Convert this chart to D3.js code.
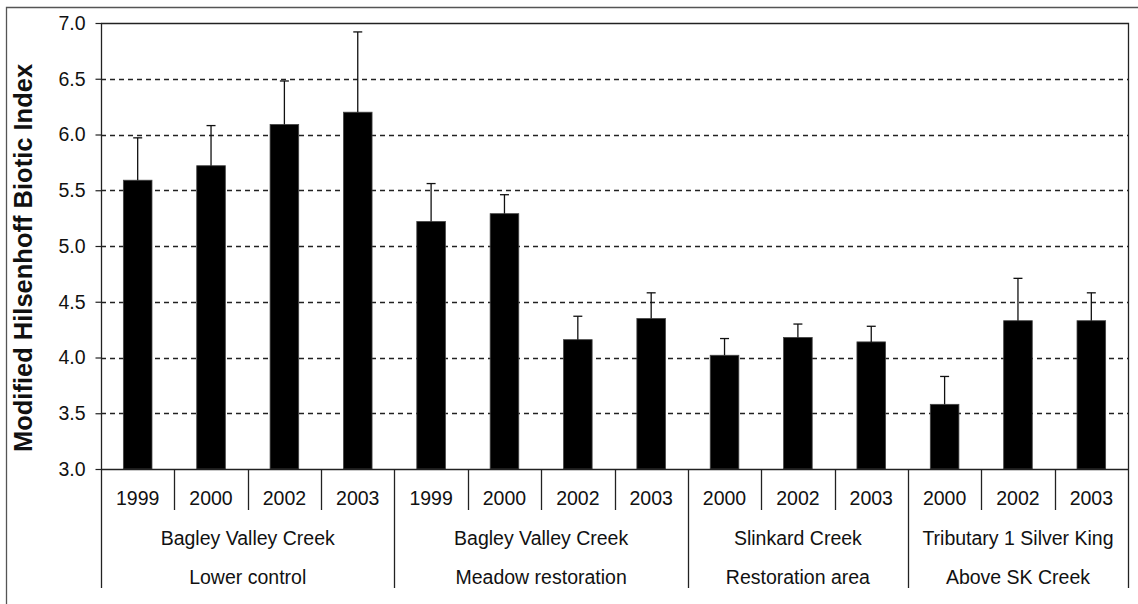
<!DOCTYPE html>
<html>
<head>
<meta charset="utf-8">
<script src="https://cdn.jsdelivr.net/npm/d3@7"></script>
<style>
  html, body { margin: 0; padding: 0; background: #fff; }
  svg { display: block; }
  text { font-family: Arial, "Liberation Sans", sans-serif; fill: #111; }
</style>
</head>
<body>
<svg id="chart" width="1138" height="604"></svg>
<script>
// Sampling sites (two label lines each) and the years sampled at each
const sites = [
  { name: "Bagley Valley Creek", reach: "Lower control" },
  { name: "Bagley Valley Creek", reach: "Meadow restoration" },
  { name: "Slinkard Creek", reach: "Restoration area" },
  { name: "Tributary 1 Silver King", reach: "Above SK Creek" }
];
const siteYears = [
  ["1999", "2000", "2002", "2003"],
  ["1999", "2000", "2002", "2003"],
  ["2000", "2002", "2003"],
  ["2000", "2002", "2003"]
];
// Mean Modified Hilsenhoff Biotic Index, in the same order
const meanIndex = [5.59, 5.72, 6.09, 6.20, 5.22, 5.29, 4.16, 4.35, 4.02, 4.18, 4.14, 3.58, 4.33, 4.33];
// Upper end of each error bar
const upperIndex = [5.97, 6.08, 6.48, 6.92, 5.56, 5.46, 4.37, 4.58, 4.17, 4.30, 4.28, 3.83, 4.71, 4.58];
const yTicks = [3.0, 3.5, 4.0, 4.5, 5.0, 5.5, 6.0, 6.5, 7.0];
const yTitle = "Modified Hilsenhoff Biotic Index";

(function draw() {
  // Flatten sites/years into one row per bar
  const rows = [];
  siteYears.forEach((years, s) => years.forEach(yr => rows.push({ site: s, year: yr, key: s + "-" + yr })));
  rows.forEach((r, i) => { r.mean = meanIndex[i]; r.upper = upperIndex[i]; });

  const svg = d3.select("#chart");
  const pLeft = 101, pRight = 1128, pTop = 23, pBottom = 469;
  const yearBottom = 510, groupBottom = 588;

  // Outer chart frame (open on right/bottom)
  svg.append("path").attr("d", "M6.5,604V7.5H1138").attr("fill", "none").attr("stroke", "#555").attr("stroke-width", 1.3);

  const x = d3.scaleBand().domain(rows.map(r => r.key)).range([pLeft, pRight]).paddingInner(0).paddingOuter(0);
  const y = d3.scaleLinear().domain([3, 7]).range([pBottom, pTop]);
  const barW = x.bandwidth() * 0.39;

  // Dashed gridlines
  svg.append("g").selectAll("line").data(yTicks.filter(t => t > 3 && t < 7)).join("line")
    .attr("x1", pLeft).attr("x2", pRight)
    .attr("y1", d => Math.round(y(d)) + 0.5).attr("y2", d => Math.round(y(d)) + 0.5)
    .attr("stroke", "#222").attr("stroke-width", 1.3).attr("stroke-dasharray", "5,4");

  // Plot border: top and right
  svg.append("path").attr("d", `M${pLeft},${pTop + 0.5}H${pRight + 0.5}V${pBottom}`)
    .attr("fill", "none").attr("stroke", "#222").attr("stroke-width", 1.3);

  // Bars
  svg.append("g").selectAll("rect").data(rows).join("rect")
    .attr("x", d => x(d.key) + (x.bandwidth() - barW) / 2)
    .attr("width", barW)
    .attr("y", d => y(d.mean))
    .attr("height", d => y(3) - y(d.mean))
    .attr("fill", "#000").attr("stroke", "#444").attr("stroke-width", 0.8);

  // Error bars (upper only)
  const eb = svg.append("g").attr("stroke", "#111").attr("stroke-width", 1.3);
  const cx = d => x(d.key) + x.bandwidth() / 2;
  eb.selectAll("line.v").data(rows).join("line").attr("class", "v")
    .attr("x1", cx).attr("x2", cx)
    .attr("y1", d => y(d.mean)).attr("y2", d => y(d.upper));
  eb.selectAll("line.c").data(rows).join("line").attr("class", "c")
    .attr("x1", d => cx(d) - 4.5).attr("x2", d => cx(d) + 4.5)
    .attr("y1", d => y(d.upper)).attr("y2", d => y(d.upper));

  // Y axis
  const yAxis = d3.axisLeft(y).tickValues(yTicks).tickFormat(d3.format(".1f")).tickSize(6).tickPadding(10);
  const ya = svg.append("g").attr("transform", `translate(${pLeft + 0.5},0)`).call(yAxis);
  ya.select(".domain").remove();
  ya.selectAll(".tick line").attr("stroke", "#222").attr("stroke-width", 1.2);
  ya.selectAll(".tick text").attr("font-size", 19.5).attr("fill", "#111")
    .style("font-family", "Arial, 'Liberation Sans', sans-serif");

  // Axis lines: left spine extends down through the category table
  svg.append("line").attr("x1", pLeft + 0.5).attr("x2", pLeft + 0.5).attr("y1", pTop).attr("y2", groupBottom)
    .attr("stroke", "#222").attr("stroke-width", 1.3);
  svg.append("line").attr("x1", pLeft).attr("x2", pRight).attr("y1", pBottom + 0.5).attr("y2", pBottom + 0.5)
    .attr("stroke", "#222").attr("stroke-width", 1.3);

  // Year separators and labels
  const groupStart = new Set();
  let idx = 0;
  siteYears.forEach(ys => { groupStart.add(idx); idx += ys.length; });
  svg.append("g").selectAll("line").data(rows.filter((r, i) => !groupStart.has(i))).join("line")
    .attr("x1", d => Math.round(x(d.key)) + 0.5).attr("x2", d => Math.round(x(d.key)) + 0.5)
    .attr("y1", pBottom).attr("y2", yearBottom).attr("stroke", "#222").attr("stroke-width", 1.3);
  svg.append("g").selectAll("text").data(rows).join("text")
    .attr("x", cx).attr("y", 505)
    .attr("text-anchor", "middle").attr("font-size", 19.5).text(d => d.year);

  // Site group boundaries and two-line labels
  const groups = [];
  idx = 0;
  siteYears.forEach((ys, s) => {
    const first = rows[idx], last = rows[idx + ys.length - 1];
    groups.push({ s, x0: x(first.key), x1: x(last.key) + x.bandwidth() });
    idx += ys.length;
  });
  svg.append("g").selectAll("line").data(groups).join("line")
    .attr("x1", d => Math.round(d.x1) + 0.5).attr("x2", d => Math.round(d.x1) + 0.5)
    .attr("y1", pBottom).attr("y2", groupBottom).attr("stroke", "#222").attr("stroke-width", 1.3);
  const gl = svg.append("g").selectAll("g").data(groups).join("g");
  gl.append("text").attr("x", d => (d.x0 + d.x1) / 2).attr("y", 545)
    .attr("text-anchor", "middle").attr("font-size", 19.5).text(d => sites[d.s].name);
  gl.append("text").attr("x", d => (d.x0 + d.x1) / 2).attr("y", 584)
    .attr("text-anchor", "middle").attr("font-size", 19.5).text(d => sites[d.s].reach);

  // Y axis title
  svg.append("text")
    .attr("transform", `translate(32,258) rotate(-90)`)
    .attr("text-anchor", "middle").attr("font-size", 25.5).attr("font-weight", "bold")
    .text(yTitle);
})();
</script>
</body>
</html>
